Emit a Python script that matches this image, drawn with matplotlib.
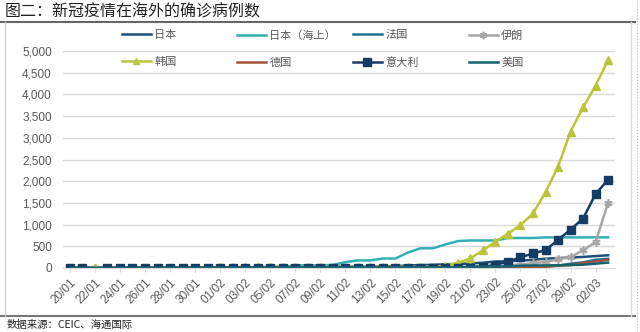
import matplotlib
matplotlib.use('Agg')
import matplotlib.pyplot as plt
from matplotlib.lines import Line2D
import pandas as pd

plt.rcParams['font.family'] = ['Noto Sans CJK SC', 'DejaVu Sans']

dates = pd.date_range('2020-01-20', '2020-03-03').strftime('%d/%m').tolist()

japan = [1, 1, 1, 1, 2, 3, 4, 4, 7, 7, 11, 15, 20, 20, 20, 20, 22, 22, 25, 25, 26, 26,
         26, 28, 28, 29, 43, 59, 66, 74, 84, 94, 105, 122, 147, 159, 170, 189, 214,
         228, 241, 256, 274, 293]
japan_ship = [0, 0, 0, 0, 0, 0, 0, 0, 0, 0, 0, 0, 0, 0, 0, 0, 10, 20, 61, 64, 64, 70,
              135, 175, 175, 218, 218, 355, 454, 454, 542, 621, 634, 634, 634, 691,
              691, 691, 705, 705, 705, 705, 706, 706]
france = [0, 0, 0, 0, 2, 3, 3, 3, 4, 5, 5, 6, 6, 6, 6, 6, 6, 6, 6, 11, 11, 11, 11,
          11, 11, 11, 12, 12, 12, 12, 12, 12, 12, 12, 12, 12, 14, 18, 38, 57, 100,
          130, 191, 212]
iran = [0, 0, 0, 0, 0, 0, 0, 0, 0, 0, 0, 0, 0, 0, 0, 0, 0, 0, 0, 0, 0, 0, 0, 0, 0,
        0, 0, 0, 0, 0, 2, 5, 18, 28, 43, 61, 80, 110, 139, 200, 252, 410, 600, 1501]
korea = [1, 1, 1, 1, 2, 2, 3, 4, 4, 4, 6, 11, 12, 15, 15, 16, 19, 23, 24, 24, 27, 27,
         28, 28, 28, 28, 28, 29, 30, 31, 51, 120, 220, 410, 602, 790, 990, 1258,
         1745, 2337, 3145, 3700, 4205, 4790]
germany = [0, 0, 0, 0, 0, 0, 0, 0, 4, 4, 4, 5, 8, 10, 12, 12, 12, 13, 13, 14, 14, 14,
           16, 16, 16, 16, 16, 16, 16, 16, 16, 16, 16, 16, 16, 16, 18, 21, 26, 53, 66,
           117, 150, 188]
italy = [0, 0, 0, 0, 0, 0, 0, 0, 0, 0, 0, 2, 2, 2, 2, 2, 2, 2, 3, 3, 3, 3, 3, 3, 3,
         3, 3, 3, 3, 3, 3, 3, 3, 20, 79, 145, 245, 335, 410, 650, 885, 1140, 1705, 2036]
usa = [0, 1, 1, 1, 2, 2, 5, 5, 5, 5, 5, 7, 8, 11, 11, 11, 12, 12, 12, 12, 12, 13, 13,
       13, 15, 15, 15, 15, 15, 15, 15, 15, 35, 35, 35, 35, 53, 59, 60, 62, 68, 75,
       100, 124]

fig = plt.figure(figsize=(6.4, 3.32), dpi=100)
W, H = 640.0, 332.0
ax = fig.add_axes([63 / W, 1 - 268 / H, 552 / W, 217 / H])

x = list(range(len(dates)))
lw = 1.8
h_japan, = ax.plot(x, japan, color='#1F4E79', lw=lw)
h_ship, = ax.plot(x, japan_ship, color='#33B0B6', lw=lw)
h_france, = ax.plot(x, france, color='#1F7196', lw=lw)
h_iran, = ax.plot(x, iran, color='#A6A6A6', lw=lw, marker=(6, 2, 0), ms=6, mew=1.2)
h_korea, = ax.plot(x, korea, color='#BAC53A', lw=lw, marker='^', ms=5.5)
h_germany, = ax.plot(x, germany, color='#A5523A', lw=lw)
italy_marks = [i for i in x if i != 2]
h_italy, = ax.plot(x, italy, color='#153C64', lw=lw, marker='s', ms=6.3,
                   markevery=italy_marks)
h_usa, = ax.plot(x, usa, color='#146470', lw=lw)

ax.set_xlim(-0.55, len(dates) - 0.45)
ax.set_ylim(0, 5000)
ax.set_yticks(range(0, 5001, 500))
ax.set_yticklabels([f'{v:,}' for v in range(0, 5001, 500)])
ax.set_xticks(x[::2])
ax.set_xticklabels(dates[::2], rotation=45, ha='right', va='top',
                   rotation_mode='anchor')
ax.grid(axis='y', color='#D9D9D9', lw=1)
ax.set_axisbelow(True)
for s in ['top', 'right', 'left']:
    ax.spines[s].set_visible(False)
ax.spines['bottom'].set_color('#D9D9D9')
ax.tick_params(axis='y', length=0, pad=8, labelsize=8.5, labelcolor='#595959')
ax.tick_params(axis='x', length=3, color='#D9D9D9', pad=3, labelsize=8.5,
               labelcolor='#595959')
for t in ax.get_xticklabels() + ax.get_yticklabels():
    t.set_family('Liberation Sans')

# legend: 4 columns, each one small legend
cols = [([h_japan, h_korea], ['日本', '韩国'], 122),
        ([h_ship, h_germany], ['日本（海上）', '德国'], 237),
        ([h_france, h_italy], ['法国', '意大利'], 353),
        ([h_iran, h_usa], ['伊朗', '美国'], 469)]
for hs, labs, px in cols:
    fig.legend(hs, labs, loc='upper left', bbox_to_anchor=(px / W, 1 - 30 / H),
               frameon=False, fontsize=8, labelcolor='#595959', handlelength=2.6,
               handletextpad=0.3, borderpad=0, borderaxespad=0, labelspacing=1.55,
               markerscale=0.9)

fig.text(5 / W, 1 - 12 / H, '图二：新冠疫情在海外的确诊病例数', fontsize=11.5,
         color='#222222', va='center', ha='left')
fig.text(7 / W, 1 - 325 / H, '数据来源：CEIC、海通国际', fontsize=7.5,
         color='#222222', va='center', ha='left')

frame = [((0, 635), (22, 22), '#666666', 1.5, '-'),
         ((0, 635), (316, 316), '#777777', 1.5, '-'),
         ((5, 5), (22, 316), '#CCCCCC', 1.0, '-'),
         ((631, 631), (22, 316), '#DDDDDD', 1.0, '-'),
         ((637, 637), (0, 332), '#BBBBBB', 0.8, ':')]
for xs, ys, c, w, ls in frame:
    fig.add_artist(Line2D([v / W for v in xs], [1 - v / H for v in ys],
                          transform=fig.transFigure, color=c, lw=w, ls=ls))

fig.savefig('out.png', dpi=100)
